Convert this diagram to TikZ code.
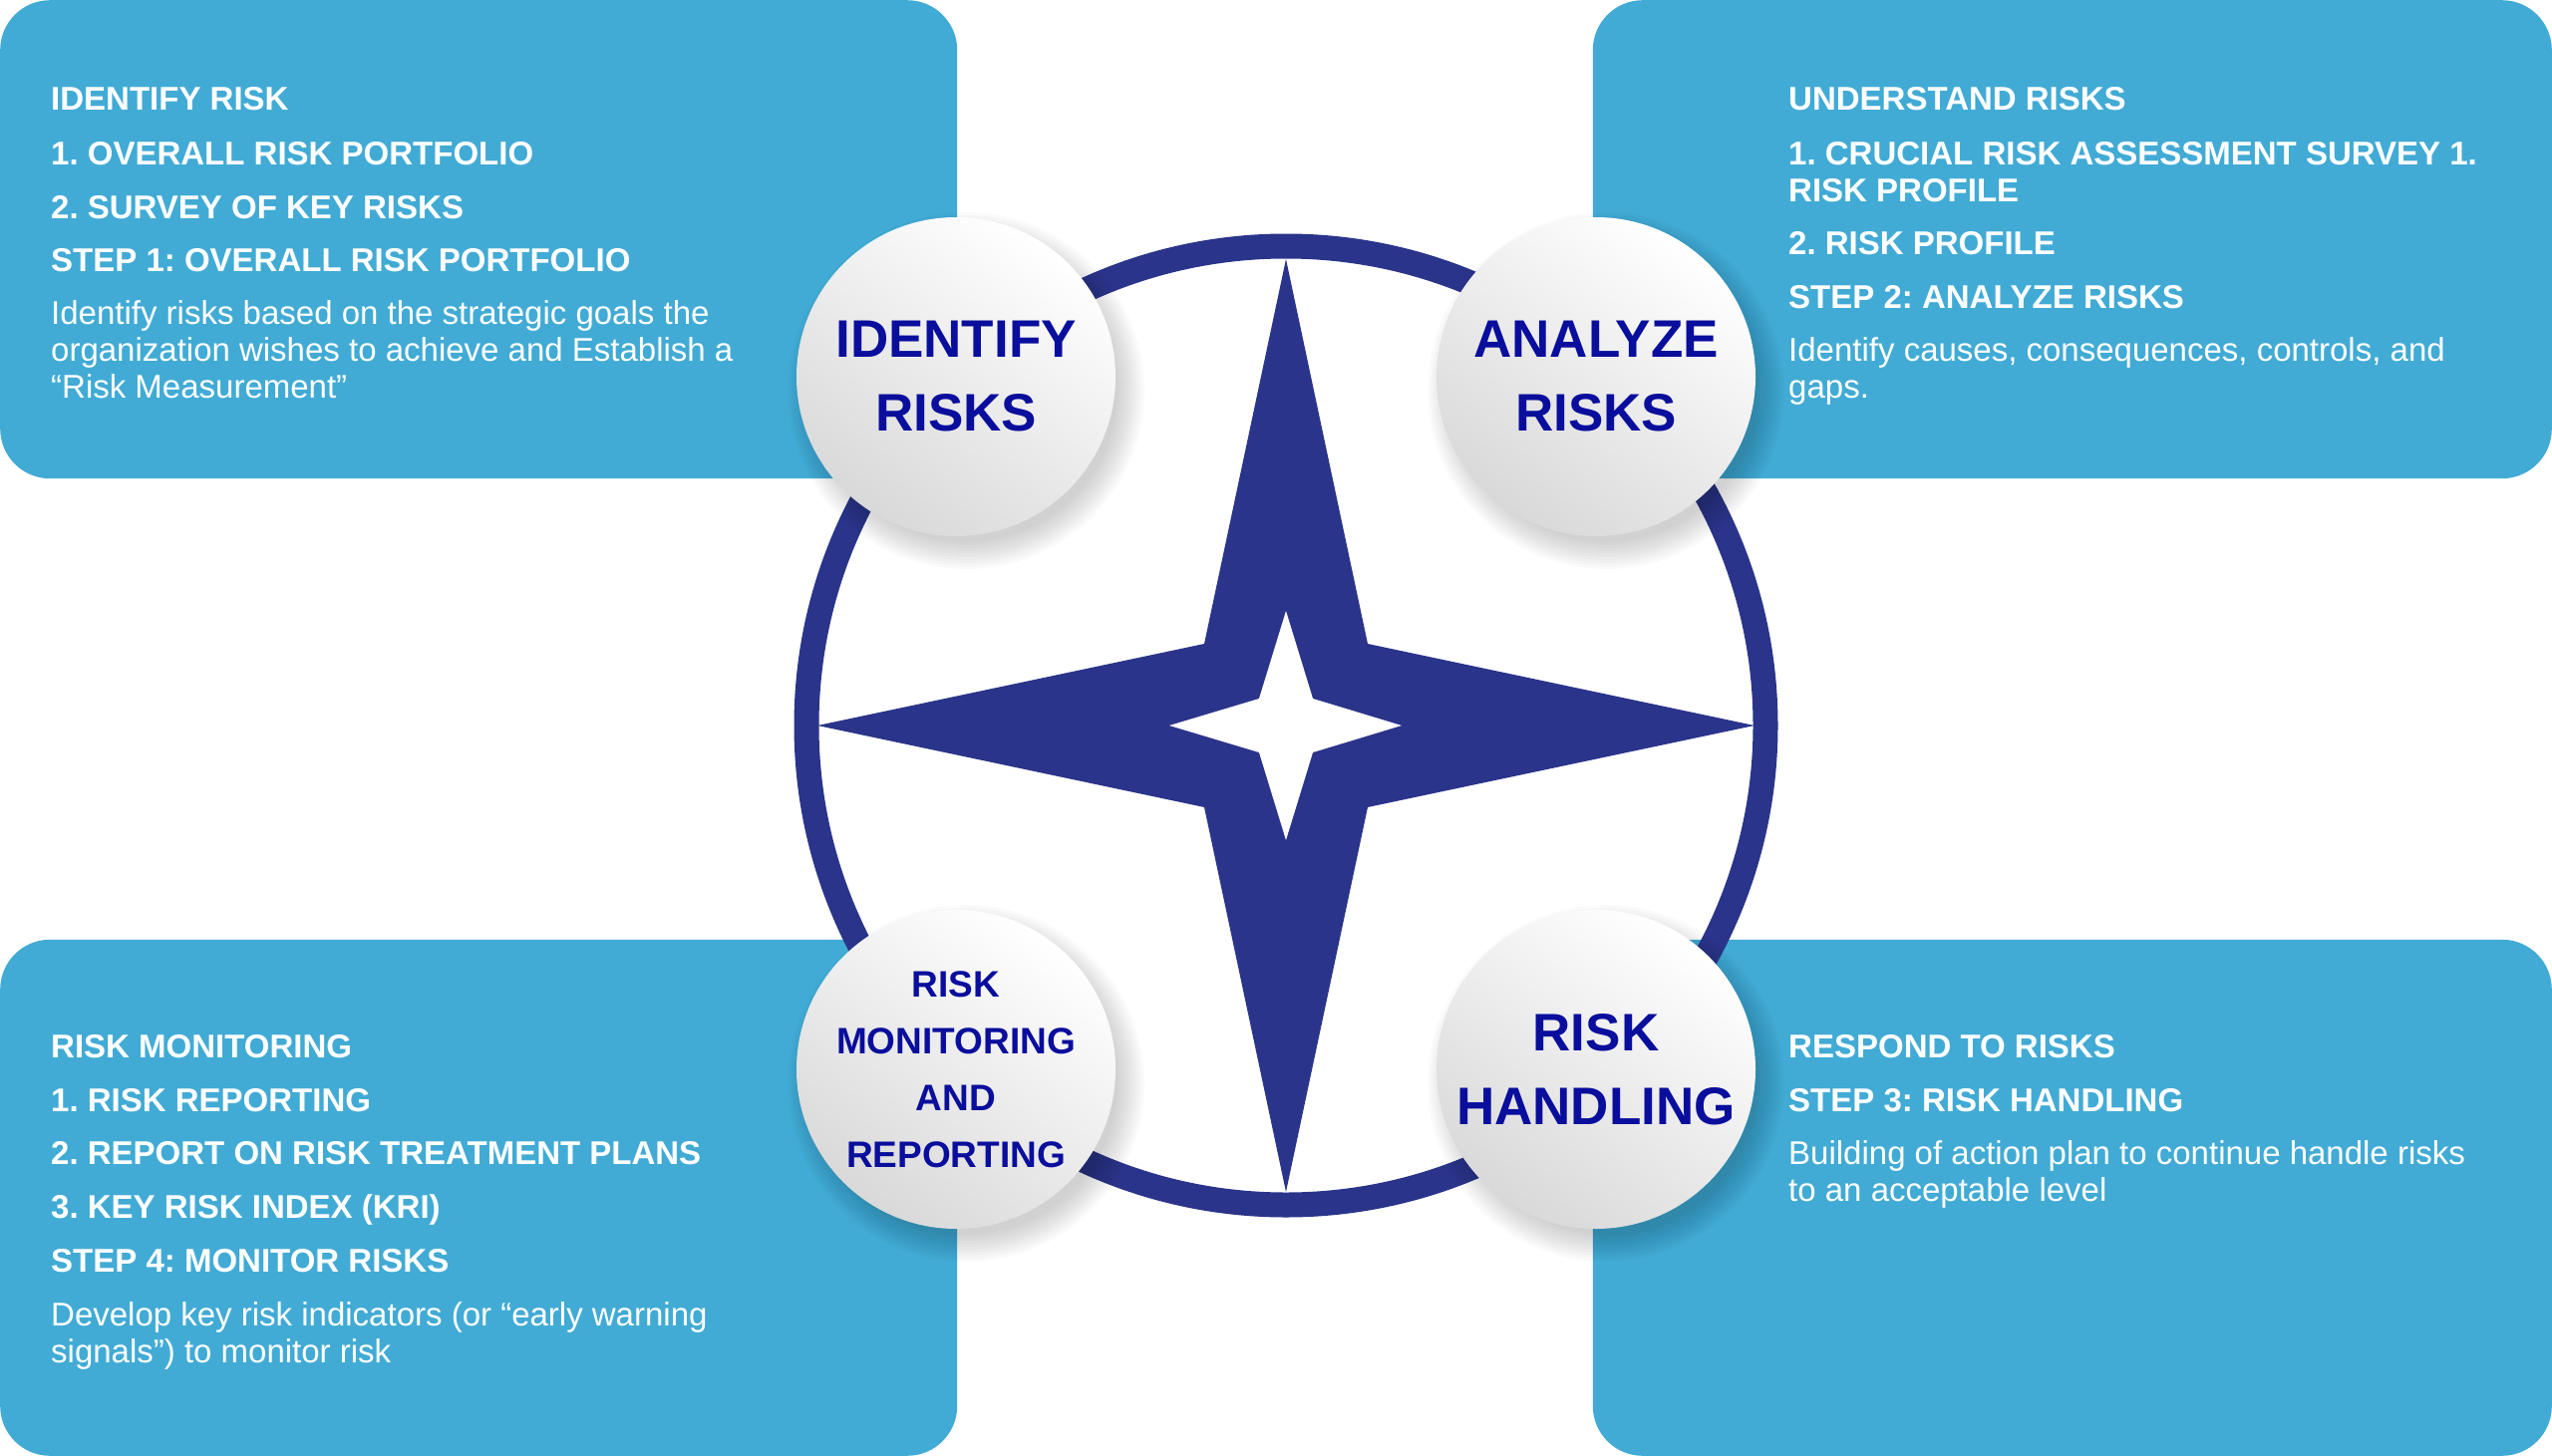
\documentclass[tikz,border=0pt]{standalone}
\usepackage{fontspec}
\setmainfont{Liberation Sans}
\usepackage{xcolor}
\usepackage{tikz}
\usetikzlibrary{positioning}
\definecolor{panelblue}{RGB}{65,171,213}
\definecolor{starblue}{RGB}{42,52,138}
\definecolor{labelblue}{RGB}{10,14,156}
\frenchspacing
\begin{document}
\begin{tikzpicture}[x=1pt, y=-1pt,
    panel/.style={rectangle, rounded corners=50pt, fill=panelblue, inner sep=0pt},
    ball/.style={circle, minimum size=320pt, inner sep=0pt, top color=white, bottom color=black!15, shading angle=-35, text=labelblue, align=center, font=\bfseries\fontsize{53}{74}\selectfont},
    head/.style={anchor=base west, inner sep=0pt, text=white, align=left, font=\bfseries\fontsize{33}{37}\selectfont},
    body/.style={anchor=base west, inner sep=0pt, text=white, align=left, font=\fontsize{33}{37}\selectfont}]
    \useasboundingbox (0,0) rectangle (2560,1461);

    \node [panel, minimum width=960pt, minimum height=480pt, anchor=north west] (tlbox) at (0,0) {};
    \node [panel, minimum width=962pt, minimum height=480pt, anchor=north east] (trbox) at (2560,0) {};
    \node [panel, minimum width=960pt, minimum height=518pt, anchor=south west] (blbox) at (0,1461) {};
    \node [panel, minimum width=962pt, minimum height=518pt, anchor=south east] (brbox) at (2560,1461) {};

    \coordinate (c) at (1290,728);
    \draw [starblue, line width=25pt] (c) circle[radius=481];
    \fill [starblue, shift={(c)}] (0,-468) -- (82,-82) -- (470,0) -- (82,82) -- (0,468) -- (-82,82) -- (-470,0) -- (-82,-82) -- cycle;
    \fill [white, shift={(c)}] (0,-115) -- (27,-27) -- (116,0) -- (27,27) -- (0,115) -- (-27,27) -- (-117,0) -- (-27,-27) -- cycle;

    \foreach \x/\y in {959/378, 1601/378, 959/1073, 1601/1073}
        \foreach \k in {0,...,9}
            \fill [black, opacity=0.018] (\x+10,\y+14) circle[radius=152+3*\k];

    \node [ball] (idc) at (959,378) {IDENTIFY\\RISKS};
    \node [ball, right of=idc, node distance=642pt] (anc) {ANALYZE\\RISKS};
    \node [ball, below of=idc, node distance=695pt, font=\bfseries\fontsize{37}{57}\selectfont] (mrc) {RISK\\MONITORING\\AND\\REPORTING};
    \node [ball, right of=mrc, node distance=642pt] (hdc) {RISK\\HANDLING};

    \node [head] (tl1) at (51,111) {IDENTIFY RISK};
    \node [head] (tl2) at (51,165) {1. OVERALL RISK PORTFOLIO};
    \node [head] (tl3) at (51,219) {2. SURVEY OF KEY RISKS};
    \node [head] (tl4) at (51,272) {STEP 1: OVERALL RISK PORTFOLIO};
    \node [body] (tl5) at (51,399) {Identify risks based on the strategic goals the\\organization wishes to achieve and Establish a\\“Risk Measurement”};

    \node [head] (tr1) at (1794,111) {UNDERSTAND RISKS};
    \node [head] (tr2) at (1794,202) {1. CRUCIAL RISK ASSESSMENT SURVEY 1.\\RISK PROFILE};
    \node [head] (tr3) at (1794,255) {2. RISK PROFILE};
    \node [head] (tr4) at (1794,309) {STEP 2: ANALYZE RISKS};
    \node [body] (tr5) at (1794,399) {Identify causes, consequences, controls, and\\gaps.};

    \node [head] (bl1) at (51,1061) {RISK MONITORING};
    \node [head] (bl2) at (51,1115) {1. RISK REPORTING};
    \node [head] (bl3) at (51,1168) {2. REPORT ON RISK TREATMENT PLANS};
    \node [head] (bl4) at (51,1222) {3. KEY RISK INDEX (KRI)};
    \node [head] (bl5) at (51,1276) {STEP 4: MONITOR RISKS};
    \node [body] (bl6) at (51,1367) {Develop key risk indicators (or “early warning\\signals”) to monitor risk};

    \node [head] (br1) at (1794,1061) {RESPOND TO RISKS};
    \node [head] (br2) at (1794,1115) {STEP 3: RISK HANDLING};
    \node [body] (br3) at (1794,1205) {Building of action plan to continue handle risks\\to an acceptable level};
\end{tikzpicture}
\end{document}
